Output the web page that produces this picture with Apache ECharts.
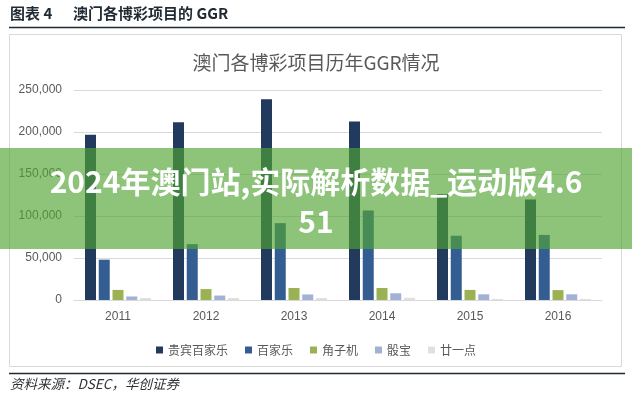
<!DOCTYPE html>
<html>
<head>
<meta charset="utf-8">
<script src="https://cdn.jsdelivr.net/npm/echarts@6/dist/echarts.min.js"></script>
<style>
	html, body { margin: 0; padding: 0; background: #fff; }
	#chart { width: 632px; height: 399px; }
</style>
</head>
<body>
<div id="chart"></div>
<script>
// 澳门各博彩项目历年GGR情况
var years = ['2011', '2012', '2013', '2014', '2015', '2016'];
var seriesNames = ['贵宾百家乐', '百家乐', '角子机', '骰宝', '廿一点'];
var vipBaccarat = [196700, 211500, 239000, 212500, 126000, 119500];
var massBaccarat = [48000, 66500, 91500, 106500, 76500, 77500];
var slots = [12000, 13000, 14300, 14300, 12000, 11800];
var sicBo = [4200, 5300, 6600, 8000, 6800, 6800];
var blackjack = [2400, 2400, 2400, 2700, 1300, 1300];
var yTicks = [0, 50000, 100000, 150000, 200000, 250000];

var colors = ['#223a5e', '#345e92', '#9bb254', '#a3b1d4', '#e0e0e0'];
var font = '"Noto Sans CJK SC", "Liberation Sans", sans-serif';

var chartGGR = function(element) {
	var myChart = echarts.init(element);
	var values = [vipBaccarat, massBaccarat, slots, sicBo, blackjack];
	var series = [];
	for (var i = 0; i < seriesNames.length; i++) {
		series.push({
			name: seriesNames[i],
			type: 'bar',
			barWidth: 11,
			barGap: '25%',
			itemStyle: { color: colors[i] },
			data: values[i]
		});
	}
	var option = {
		animation: false,
		textStyle: { fontFamily: font },
		title: {
			text: '澳门各博彩项目历年GGR情况',
			left: 'center',
			top: 48,
			textStyle: { fontSize: 19, fontWeight: 'normal', color: '#595959', fontFamily: font }
		},
		legend: {
			data: seriesNames,
			left: 'center',
			top: 339,
			icon: 'rect',
			itemWidth: 7,
			itemHeight: 7,
			itemGap: 17,
			textStyle: { fontSize: 12, color: '#595959', fontFamily: font }
		},
		grid: { left: 74, right: 30, top: 90, bottom: 99 },
		xAxis: {
			type: 'category',
			data: years,
			axisLine: { lineStyle: { color: '#d9d9d9' } },
			axisTick: { show: false },
			axisLabel: { color: '#595959', fontSize: 12, margin: 11, fontFamily: 'Liberation Sans' }
		},
		yAxis: {
			type: 'value',
			min: yTicks[0],
			max: yTicks[yTicks.length - 1],
			interval: yTicks[1] - yTicks[0],
			axisLine: { show: false },
			axisTick: { show: false },
			splitLine: { lineStyle: { color: '#d9d9d9' } },
			axisLabel: {
				color: '#595959', fontSize: 12, margin: 12, fontFamily: 'Liberation Sans',
				formatter: function(v) { return v.toLocaleString('en-US'); }
			}
		},
		graphic: [
			{ type: 'text', left: 10, top: 6, style: { text: '图表 4', font: 'bold 15px ' + font, fill: '#1f2a33' } },
			{ type: 'text', left: 73, top: 6, style: { text: '澳门各博彩项目的 GGR', font: 'bold 15px ' + font, fill: '#1f2a33' } },
			{ type: 'line', shape: { x1: 9, y1: 27.5, x2: 625, y2: 27.5 }, style: { stroke: '#1f2a33', lineWidth: 1.5 } },
			{ type: 'rect', shape: { x: 9.5, y: 34.5, width: 612, height: 332 }, style: { fill: 'none', stroke: '#d9d9d9', lineWidth: 1 } },
			{ type: 'line', shape: { x1: 9, y1: 373.5, x2: 625, y2: 373.5 }, style: { stroke: '#1f2a33', lineWidth: 1.5 } },
			{ type: 'text', left: 10, top: 377, style: { text: '资料来源：DSEC，华创证券', font: 'italic 13.5px ' + font, fill: '#333' } },
			{ type: 'rect', z: 100, shape: { x: 0, y: 148, width: 632, height: 101 }, style: { fill: 'rgba(80,165,51,0.65)' } },
			{ type: 'text', z: 101, x: 316, y: 182, style: { text: '2024年澳门站,实际解析数据_运动版4.6', font: 'bold 30px ' + font, fill: '#fff', align: 'center', verticalAlign: 'middle' } },
			{ type: 'text', z: 101, x: 316, y: 222, style: { text: '51', font: 'bold 30px ' + font, fill: '#fff', align: 'center', verticalAlign: 'middle' } }
		],
		series: series
	};
	myChart.setOption(option);
};

chartGGR(document.getElementById('chart'));
</script>
</body>
</html>
